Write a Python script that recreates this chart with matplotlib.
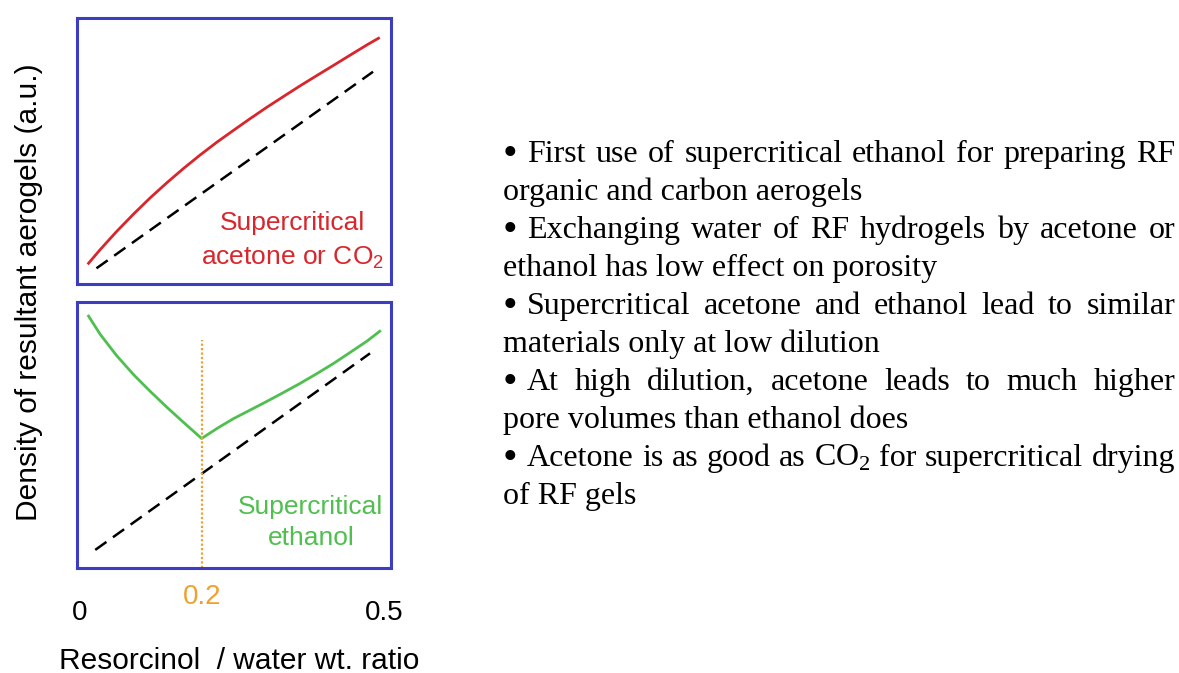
import matplotlib
matplotlib.use("Agg")
import matplotlib.pyplot as plt
import matplotlib.transforms as mtransforms

# ---- data (arbitrary units) ----
red_x = [0.014, 0.033, 0.060, 0.088, 0.115, 0.143, 0.170, 0.197, 0.225, 0.252,
         0.280, 0.307, 0.334, 0.362, 0.389, 0.417, 0.444, 0.472, 0.491]
red_y = [0.078, 0.129, 0.197, 0.263, 0.323, 0.381, 0.434, 0.484, 0.533, 0.577,
         0.622, 0.664, 0.704, 0.745, 0.783, 0.822, 0.860, 0.899, 0.924]
top_ref_x = [0.027, 0.482]
top_ref_y = [0.059, 0.798]

green_x = [0.014, 0.033, 0.060, 0.088, 0.115, 0.143, 0.170, 0.200,
           0.227, 0.252, 0.280, 0.307, 0.334, 0.362, 0.389, 0.417, 0.444, 0.472, 0.493]
green_y = [0.947, 0.879, 0.799, 0.727, 0.665, 0.604, 0.548, 0.487,
           0.527, 0.561, 0.594, 0.626, 0.659, 0.694, 0.730, 0.769, 0.810, 0.853, 0.890]
bot_ref_x = [0.025, 0.477]
bot_ref_y = [0.068, 0.807]

critical_x = 0.2
critical_top = 0.857

bullets = [
    ["First use of supercritical ethanol for preparing RF",
     "organic and carbon aerogels"],
    ["Exchanging water of RF hydrogels by acetone or",
     "ethanol has low effect on porosity"],
    ["Supercritical acetone and ethanol lead to similar",
     "materials only at low dilution"],
    ["At high dilution, acetone leads to much higher",
     "pore volumes than ethanol does"],
    [r"Acetone is as good as CO$_\mathregular{2}$ for supercritical drying",
     "of RF gels"],
]

W, H = 1179, 673
BLUE = "#3d3dc2"
RED = "#d8262c"
GREEN = "#4fbf4f"
ORANGE = "#f0a030"
SANS = "Liberation Sans"
SERIF = "Liberation Serif"

fig = plt.figure(figsize=(W / 100, H / 100), dpi=100)

ax_top = fig.add_axes([77 / W, 1 - 284 / H, 314 / W, 266 / H])
ax_bot = fig.add_axes([77 / W, 1 - 568 / H, 314 / W, 266 / H])

for ax in (ax_top, ax_bot):
    ax.set_xlim(-0.005, 0.5115)
    ax.set_ylim(0, 1)
    ax.set_xticks([])
    ax.set_yticks([])
    for sp in ax.spines.values():
        sp.set_color(BLUE)
        sp.set_linewidth(2.2)

# top panel
ax_top.plot(red_x, red_y, color=RED, lw=2.0)
ax_top.plot(top_ref_x, top_ref_y, color="black", lw=1.8, dashes=(5.5, 3.2))
ax_top.text(0.685, 0.230, "Supercritical", color=RED, fontsize=19,
            family=SANS, ha="center", va="center", transform=ax_top.transAxes)
ax_top.text(0.685, 0.098, r"acetone or CO$_\mathregular{2}$", color=RED, fontsize=19,
            family=SANS, ha="center", va="center", transform=ax_top.transAxes)

# bottom panel
ax_bot.plot(green_x, green_y, color=GREEN, lw=2.0)
ax_bot.plot(bot_ref_x, bot_ref_y, color="black", lw=1.8, dashes=(5.5, 3.2))
ax_bot.plot([critical_x, critical_x], [0, critical_top], color=ORANGE,
            lw=1.6, linestyle=(0, (1, 1)))
ax_bot.text(0.745, 0.229, "Supercritical", color=GREEN, fontsize=19,
            family=SANS, ha="center", va="center", transform=ax_bot.transAxes)
ax_bot.text(0.745, 0.113, "ethanol", color=GREEN, fontsize=19,
            family=SANS, ha="center", va="center", transform=ax_bot.transAxes)

# x tick labels
trans = mtransforms.blended_transform_factory(ax_bot.transData, ax_bot.transAxes)
ax_bot.text(0, -0.169, "0", fontsize=20, family=SANS, ha="center", va="center",
            transform=trans, clip_on=False)
ax_bot.text(0.5, -0.169, "0.5", fontsize=20, family=SANS, ha="center", va="center",
            transform=trans, clip_on=False)
ax_bot.text(critical_x, -0.109, "0.2", fontsize=20, family=SANS, color=ORANGE,
            ha="center", va="center", transform=trans, clip_on=False)

fig.text(239 / W, 1 - 661 / H, "Resorcinol  / water wt. ratio", fontsize=21.5,
         family=SANS, ha="center", va="center")
fig.text(29 / W, 1 - 292 / H, "Density of resultant aerogels (a.u.)", fontsize=21.5,
         family=SANS, rotation=90, ha="center", va="center")

# ---- right-hand bullet text, first line of each bullet justified ----
renderer = fig.canvas.get_renderer()
FS = 23
x_left, x_word, x_right = 503, 527, 1175


def text_width(s):
    t = fig.text(0, 0, s, fontsize=FS, family=SERIF)
    w = t.get_window_extent(renderer).width
    t.remove()
    return w


line_no = 0
for para in bullets:
    for j, line in enumerate(para):
        base = 162 + 38 * line_no
        y = 1 - base / H
        if j == 0:
            fig.text(x_left / W, 1 - (base + 3) / H, "\u2022", fontsize=30,
                     family=SERIF, va="baseline")
            words = line.split(" ")
            widths = [text_width(w) for w in words]
            gap = (x_right - x_word - sum(widths)) / (len(words) - 1)
            x = x_word
            for w, wd in zip(words, widths):
                fig.text(x / W, y, w, fontsize=FS, family=SERIF, va="baseline")
                x += wd + gap
        else:
            fig.text(x_left / W, y, line, fontsize=FS, family=SERIF, va="baseline")
        line_no += 1

fig.savefig("out.png", dpi=100)
